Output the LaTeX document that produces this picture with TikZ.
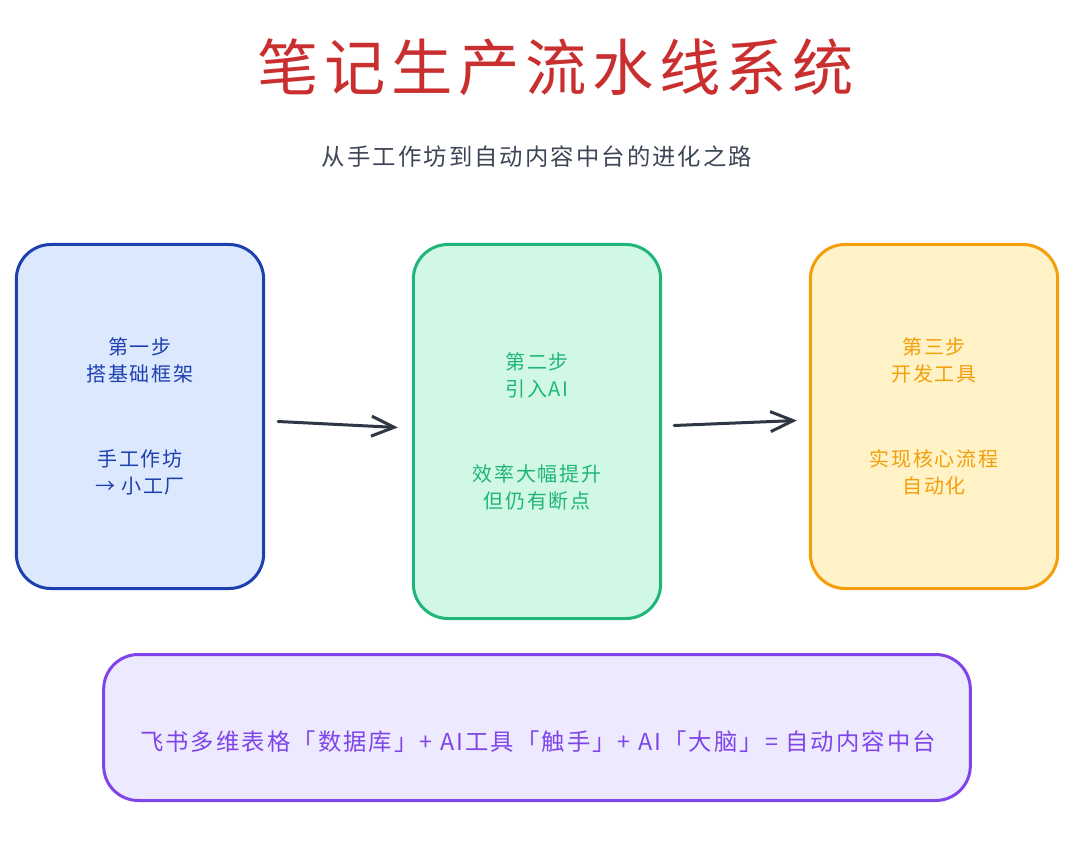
\documentclass[tikz,border=0pt]{standalone}
\usepackage{fontspec}
\setmainfont{Noto Sans CJK SC}[LetterSpace=9]
\usetikzlibrary{positioning,calc,arrows.meta}

\definecolor{titlered}{HTML}{C92F2F}
\definecolor{subgray}{HTML}{3D4556}
\definecolor{arrowink}{HTML}{2F3645}
\definecolor{oneline}{HTML}{1E40AF}
\definecolor{onefill}{HTML}{DBE8FE}
\definecolor{twoline}{HTML}{1FB57B}
\definecolor{twofill}{HTML}{D1F8E4}
\definecolor{threeline}{HTML}{F59E0B}
\definecolor{threefill}{HTML}{FEF2C6}
\definecolor{sumline}{HTML}{7F45EA}
\definecolor{sumfill}{HTML}{EDE9FE}

\begin{document}
\begin{tikzpicture}[
        x=0.75pt, y=-0.75pt,
        title/.style={font=\fontsize{46}{50}\selectfont, text=titlered},
        subtitle/.style={font=\fontsize{17.5}{20}\selectfont, text=subgray},
        stepbox/.style={draw, line width=2.25pt, rounded corners=26pt, align=center,
          minimum width=185.5pt, minimum height=258pt, font=\fontsize{15}{20.25}\selectfont},
        sumbox/.style={draw=sumline, fill=sumfill, line width=2.25pt, rounded corners=26pt,
          minimum width=650pt, minimum height=109.5pt},
        sumtag/.style={font=\fontsize{17.5}{20}\selectfont, text=sumline},
        flow/.style={draw=arrowink, line width=2.25pt, line cap=round,
          -{Straight Barb[length=17pt, width=15pt, line width=2.25pt]}}
      ]

      \useasboundingbox (0,0) rectangle (1080,855);

      \node (T) [title] at (556,67) {笔记生产流水线系统};
      \node (ST) [subtitle] at (537,157) {从手工作坊到自动内容中台的进化之路};

      \node (S1) [stepbox, draw=oneline, fill=onefill, text=oneline] at (140,416.5)
        {第一步\\搭基础框架\\[43pt]手工作坊\\→ 小工厂};
      \node (S2) [stepbox, draw=twoline, fill=twofill, text=twoline, minimum height=280.5pt,
        right=110pt of S1.north east, anchor=north west]
        {第二步\\引入AI\\[43pt]效率大幅提升\\但仍有断点};
      \node (S3) [stepbox, draw=threeline, fill=threefill, text=threeline,
        right=110pt of S2.north east, anchor=north west]
        {第三步\\开发工具\\[43pt]实现核心流程\\自动化};

      \node (SB) [sumbox] at (537,727.5) {};
      \node (SBT) [sumtag] at (538,742) {飞书多维表格「数据库」+ AI工具「触手」+ AI「大脑」= 自动内容中台};

      \draw[flow] ($(S1.east)+(13,5)$) -- ($(S2.west)+(-14,-4)$);
      \draw[flow] ($(S2.east)+(12,-6)$) -- ($(S3.west)+(-12,4)$);

    \end{tikzpicture}
\end{document}
